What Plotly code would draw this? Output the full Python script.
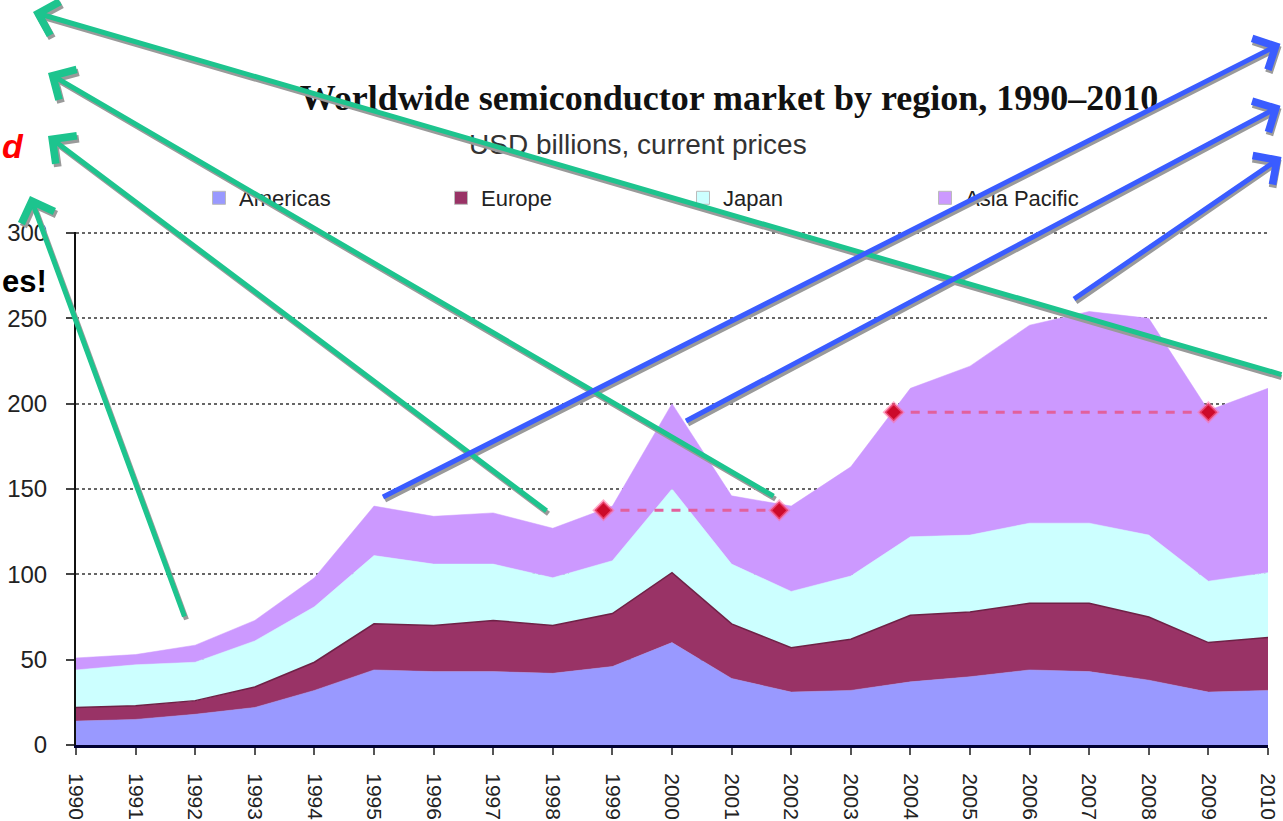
import plotly.graph_objects as go

# ---------------- data ----------------
years = list(range(1990, 2011))
americas = [14, 15, 18, 22, 32, 44, 43, 43, 42, 46, 60, 39, 31, 32, 37, 40, 44, 43, 38, 31, 32]
europe = [8, 8, 8, 12, 16.5, 27, 27, 30, 28, 31, 41, 32, 26, 30, 39, 38, 39, 40, 37, 29, 31]
japan = [22, 24, 22.5, 27, 32.5, 40, 36, 33, 28, 31, 49, 35, 33, 37, 46, 45, 47, 47, 48, 36, 38]
asia_pacific = [7, 6, 10, 12, 17, 29, 28, 30, 29, 32, 50, 40, 50, 64, 87, 99, 116, 124, 127, 100, 108]

series_names = ["Americas", "Europe", "Japan", "Asia Pacific"]
series_colors = ["#9999FF", "#993366", "#CCFFFF", "#CC99FF"]

# market-size levels marked with red dots and dashed lines
low_level_years = [1998.85, 2001.8]
low_level_value = 137.5
high_level_years = [2003.72, 2009.0]
high_level_value = 195

title_text = "Worldwide semiconductor market by region, 1990\u20132010"
subtitle_text = "USD billions, current prices"

# ---------------- geometry helpers (pixel -> paper) ----------------
W, H = 1283, 821
L, R, T, B = 76, 15, 232, 76
PW, PH = W - L - R, H - T - B


def px(x):
    return (x - L) / PW


def py(y):
    return (H - B - y) / PH


fig = go.Figure()

for name, vals, col in zip(series_names, [americas, europe, japan, asia_pacific], series_colors):
    edge = "#6e2146" if name == "Europe" else col
    fig.add_trace(go.Scatter(
        x=years, y=vals, name=name, stackgroup="one", mode="lines",
        line=dict(width=1.5 if name == "Europe" else 0.5, color=edge),
        fillcolor=col, showlegend=False, hoverinfo="x+y+name"))

# legend entries with square swatches
for name, col in zip(series_names, series_colors):
    fig.add_trace(go.Scatter(
        x=[None], y=[None], name=name, mode="markers",
        marker=dict(symbol="square", size=13, color=col,
                    line=dict(width=1, color="#bbbbbb")),
        showlegend=True))

# dashed level lines with red dots
for xs, lv in [(low_level_years, low_level_value), (high_level_years, high_level_value)]:
    fig.add_trace(go.Scatter(
        x=xs, y=[lv] * len(xs), mode="lines",
        line=dict(color="#e2609c", width=3, dash="9px,8px"),
        showlegend=False, hoverinfo="skip"))
    fig.add_trace(go.Scatter(
        x=xs, y=[lv] * len(xs), mode="markers",
        marker=dict(symbol="diamond", size=14, color="#cc0a2a",
                    line=dict(color="rgba(255,110,160,0.55)", width=3)),
        showlegend=False, hoverinfo="skip"))

annotations = []

# subtitle
annotations.append(dict(
    text=subtitle_text, xref="paper", yref="paper", x=px(638), y=py(144),
    xanchor="center", yanchor="middle", showarrow=False,
    font=dict(family="Liberation Sans, Arial", size=28, color="#333333")))

# text fragments at left edge
annotations.append(dict(
    text="d", xref="paper", yref="paper", x=px(0), y=py(146),
    xanchor="left", yanchor="middle", showarrow=False,
    font=dict(family="Liberation Sans, Arial", size=34, color="#ff0000",
              weight="bold", style="italic")))
annotations.append(dict(
    text="es!", xref="paper", yref="paper", x=px(0), y=py(281),
    xanchor="left", yanchor="middle", showarrow=False,
    font=dict(family="Liberation Sans, Arial", size=31, color="#000000",
              weight="bold")))

# arrows: (tail_x, tail_y, head_x, head_y) in pixels
green_arrows = [
    (1300, 375, 33, 12),
    (775, 497, 48, 73),
    (548, 512, 48, 136),
    (185, 618, 30, 196),
]
blue_arrows = [
    (383, 497, 1282, 43),
    (686, 421, 1282, 105),
    (1074, 299, 1322, 156),
]


def arrow(t, color, dx=0, dy=0, anchor_tail=False):
    tx, ty, hx, hy = t
    common = dict(
        text="", xref="paper", yref="paper", axref="pixel", ayref="pixel",
        showarrow=True, arrowhead=4, startarrowhead=4,
        arrowsize=1.35, startarrowsize=1.35, arrowwidth=5,
        arrowcolor=color, standoff=0, startstandoff=0)
    if anchor_tail:
        # anchor at the (visible) tail, arrow head drawn at the far end
        return dict(common, x=px(tx + dx), y=py(ty + dy),
                    ax=hx - tx, ay=hy - ty, arrowside="start")
    return dict(common, x=px(hx + dx), y=py(hy + dy),
                ax=tx - hx, ay=ty - hy, arrowside="end")


for a in green_arrows:
    annotations.append(arrow(a, "#9a9a9a", 2, 3))
for a in blue_arrows:
    annotations.append(arrow(a, "#9a9a9a", 2, 3, anchor_tail=True))
for a in green_arrows:
    annotations.append(arrow(a, "#1dc48e"))
for a in blue_arrows:
    annotations.append(arrow(a, "#3a5cff", anchor_tail=True))

fig.update_layout(
    width=W, height=H,
    margin=dict(l=L, r=R, t=T, b=B, pad=0, autoexpand=False),
    paper_bgcolor="white", plot_bgcolor="white",
    title=dict(text=title_text, x=729 / W, xanchor="center",
               y=1 - 97 / H, yanchor="middle", yref="container",
               font=dict(family="Liberation Serif, Times New Roman", size=36,
                         color="#111111", weight="bold")),
    legend=dict(orientation="h", x=px(199), y=py(198), xanchor="left",
                yanchor="middle", entrywidth=197, entrywidthmode="pixels",
                itemsizing="trace", traceorder="normal",
                font=dict(family="Liberation Sans, Arial", size=22, color="#222222"),
                bgcolor="rgba(0,0,0,0)"),
    annotations=annotations,
    showlegend=True,
)

fig.update_xaxes(
    range=[1990, 2010], tickmode="array", tickvals=years,
    ticktext=[str(y) for y in years], tickangle=90, automargin=False,
    ticks="outside", ticklen=7, tickcolor="#555555", tickwidth=1.5,
    showline=True, linecolor="#000033", linewidth=3,
    showgrid=False, zeroline=False, ticklabelstandoff=14,
    tickfont=dict(family="Liberation Sans, Arial", size=21, color="#222222"))

fig.update_yaxes(
    range=[0, 300.6], tick0=0, dtick=50, automargin=False,
    ticks="outside", ticklen=8, tickcolor="#444444", tickwidth=2,
    showline=True, linecolor="#111111", linewidth=2,
    showgrid=True, gridcolor="#666666", gridwidth=2, griddash="dot",
    zeroline=False, ticklabelstandoff=14,
    tickfont=dict(family="Liberation Sans, Arial", size=24, color="#222222"))

fig.write_html(
    "out.html",
    config={"displayModeBar": False},
    post_script="document.body.style.margin='0';document.body.style.overflow='hidden';")
